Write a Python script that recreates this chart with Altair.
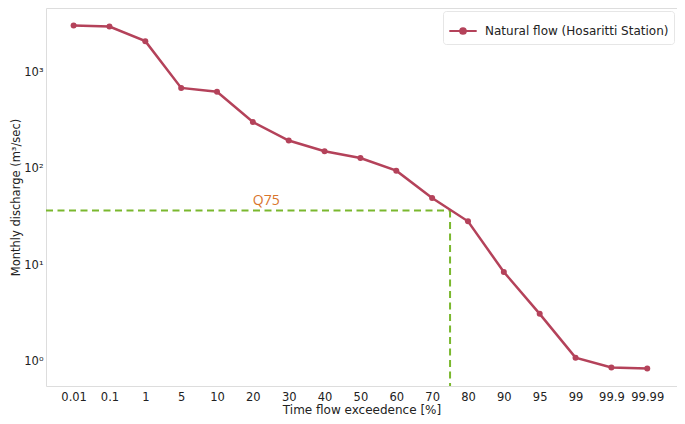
import altair as alt
import pandas as pd

categories = ["0.01", "0.1", "1", "5", "10", "20", "30", "40", "50", "60",
              "70", "80", "90", "95", "99", "99.9", "99.99"]
discharge = [3055, 2985, 2104, 689, 628, 305, 196, 152, 129, 95.5,
             49.8, 28.5, 8.5, 3.13, 1.10, 0.87, 0.85]
series_name = "Natural flow (Hosaritti Station)"
q75_value = 36.8
q75_position = 10.5  # halfway between 70 and 80 (i.e. 75 %)
q75_label = "Q75"
x_domain = [-0.77, 16.83]

LINE = "#b4425a"
GREEN = "#7ab82e"
ORANGE = "#d9742c"
FONT = "DejaVu Sans"
W, H = 631, 378

df = pd.DataFrame({
    "idx": list(range(len(categories))),
    "cat": categories,
    "q": discharge,
    "series": [series_name] * len(categories),
})
qdf = pd.DataFrame({"x0": [x_domain[0]], "x": [q75_position], "y": [q75_value],
                    "label": [q75_label], "xt": [5.0]})

label_list = "[" + ",".join("'" + c + "'" for c in categories) + "]"
x_scale = alt.Scale(domain=x_domain, nice=False, zero=False)
y_scale = alt.Scale(type="log", domain=[0.559, 4642], nice=False)

x_axis = alt.Axis(values=list(range(len(categories))), labelExpr=label_list + "[datum.value]",
                  ticks=False, domain=False, grid=False, labelFont=FONT, labelFontSize=11.5,
                  labelColor="#222", labelPadding=5, labelOverlap=False, labelSeparation=0,
                  title="Time flow exceedence [%]",
                  titleFont=FONT, titleFontSize=12, titleFontWeight="normal", titleColor="#222",
                  titlePadding=2)
y_axis = alt.Axis(values=[1, 10, 100, 1000],
                  labelExpr="datum.value==1?'10⁰':datum.value==10?'10¹':datum.value==100?'10²':'10³'",
                  ticks=False, domain=False, grid=False, labelFont=FONT, labelFontSize=11.5,
                  labelColor="#222", labelPadding=3, labelOverlap=False,
                  title="Monthly discharge (m³/sec)",
                  titleFont=FONT, titleFontSize=11.5, titleFontWeight="normal", titleColor="#222",
                  titlePadding=2)

symbol_path = "M-1,0L1,0M-0.2,0A0.2,0.2,0,1,1,0.2,0A0.2,0.2,0,1,1,-0.2,0Z"

line = alt.Chart(df).mark_line(strokeWidth=2.5).encode(
    x=alt.X("idx:Q", scale=x_scale, axis=x_axis),
    y=alt.Y("q:Q", scale=y_scale, axis=y_axis),
    color=alt.Color("series:N", scale=alt.Scale(range=[LINE]),
                    legend=alt.Legend(title=None, orient="top-right", offset=3, padding=5,
                                      strokeColor="#e6e6e6", fillColor="white", cornerRadius=3,
                                      symbolType=symbol_path, symbolSize=750,
                                      symbolStrokeWidth=2.2, symbolFillColor=LINE,
                                      symbolStrokeColor=LINE, labelFont=FONT, labelFontSize=12,
                                      labelColor="#222", labelOffset=7, labelLimit=400)),
)
points = alt.Chart(df).mark_circle(size=36, opacity=1, color=LINE).encode(
    x=alt.X("idx:Q", scale=x_scale, axis=x_axis), y=alt.Y("q:Q", scale=y_scale, axis=y_axis)
)
hrule = alt.Chart(qdf).mark_rule(color=GREEN, strokeWidth=2, strokeDash=[7, 4.5]).encode(
    x=alt.X("x0:Q", scale=x_scale, axis=x_axis), x2=alt.X2("x:Q"),
    y=alt.Y("y:Q", scale=y_scale, axis=y_axis)
)
vrule = alt.Chart(qdf).mark_rule(color=GREEN, strokeWidth=2, strokeDash=[7, 4.5]).encode(
    x=alt.X("x:Q", scale=x_scale, axis=x_axis), y=alt.Y("y:Q", scale=y_scale, axis=y_axis),
    y2=alt.value(H)
)
text = alt.Chart(qdf).mark_text(color=ORANGE, font="Open Sans", fontSize=14, align="left",
                                baseline="bottom", dy=-3).encode(
    x=alt.X("xt:Q", scale=x_scale, axis=x_axis), y=alt.Y("y:Q", scale=y_scale, axis=y_axis),
    text="label:N"
)

chart = alt.layer(hrule, vrule, line, points, text).properties(
    width=W, height=H,
    autosize=alt.AutoSizeParams(type="none"),
    padding={"left": 38, "top": 0, "right": 0, "bottom": 30},
).configure_view(stroke="#777777", strokeWidth=1.2).configure_axis(
    labelOverlap=False
).configure(background="white")

chart.save("out.html", embed_options={"renderer": "svg", "actions": False})
